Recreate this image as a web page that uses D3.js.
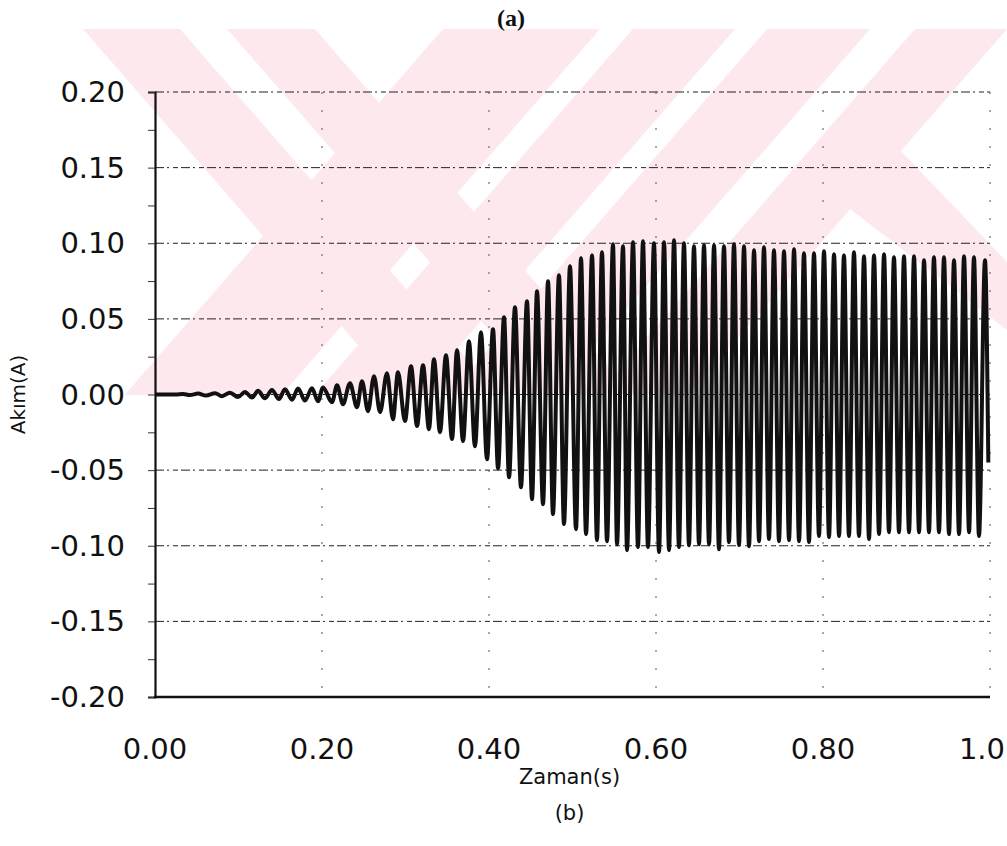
<!DOCTYPE html>
<html>
<head>
<meta charset="utf-8">
<script src="https://cdn.jsdelivr.net/npm/d3@7/dist/d3.min.js"></script>
<style>
  html, body { margin: 0; padding: 0; background: #fff; }
  svg { display: block; }
</style>
</head>
<body>
<div id="chart"></div>
<script>
// ---------------- data ----------------
const xTicks = [0, 0.2, 0.4, 0.6, 0.8, 1.0];
const xTickLabels = ["0.00", "0.20", "0.40", "0.60", "0.80", "1.0"];
const yTicks = [0.20, 0.15, 0.10, 0.05, 0.00, -0.05, -0.10, -0.15, -0.20];
const yTickLabels = ["0.20", "0.15", "0.10", "0.05", "0.00", "-0.05", "-0.10", "-0.15", "-0.20"];
const xTitle = "Zaman(s)";
const yTitle = "Akım(A)";
const topCaption = "(a)";
const bottomCaption = "(b)";

// start / end of the trace
const startPoint = [0.0, 0.0];
const flatUntil = [0.025, 0.0];
const endPoint = [0.998, -0.045];

// time (s) and current (A) of each positive peak
const peakTime = [
  0.0335, 0.0515, 0.0719, 0.0898, 0.1078, 0.1234, 0.1401, 0.1557, 0.1713, 0.1880, 0.2012,
  0.2180, 0.2335, 0.2479, 0.2623, 0.2778, 0.2910, 0.3066, 0.3210, 0.3341, 0.3485, 0.3617, 0.3760, 0.3904, 0.4048,
  0.4180, 0.4311, 0.4455, 0.4575, 0.4707, 0.4838, 0.4970, 0.5102, 0.5234, 0.5353, 0.5485, 0.5605, 0.5725, 0.5844,
  0.5976, 0.6096, 0.6216, 0.6335, 0.6455, 0.6575, 0.6695, 0.6814, 0.6934,
  0.7054, 0.7174, 0.7293, 0.7413, 0.7533, 0.7653, 0.7772, 0.7892, 0.8012, 0.8132, 0.8251, 0.8371, 0.8491,
  0.8611, 0.8731, 0.8850, 0.8970, 0.9090, 0.9210, 0.9329, 0.9449, 0.9569, 0.9689, 0.9808, 0.9940
];
const peakValue = [
  0.0004, 0.0006, 0.0009, 0.0012, 0.0017, 0.0024, 0.0030, 0.0035, 0.0040, 0.0042, 0.0046,
  0.0061, 0.0075, 0.0088, 0.0121, 0.0141, 0.0147, 0.0187, 0.0194, 0.0233, 0.0260, 0.0293, 0.0352, 0.0412, 0.0432,
  0.0511, 0.0577, 0.0617, 0.0683, 0.0749, 0.0789, 0.0848, 0.0901, 0.0921, 0.0941, 0.0994, 0.0980, 0.1007, 0.1013,
  0.1000, 0.1007, 0.1020, 0.1000, 0.0980, 0.0987, 0.0987, 0.0980, 0.0994,
  0.0980, 0.0954, 0.0974, 0.0954, 0.0947, 0.0960, 0.0934, 0.0934, 0.0947, 0.0927, 0.0921, 0.0941, 0.0914,
  0.0921, 0.0927, 0.0908, 0.0914, 0.0914, 0.0888, 0.0908, 0.0908, 0.0888, 0.0914, 0.0908, 0.0888
];
// time (s) and current (A) of each negative peak
const troughTime = [
  0.0419, 0.0611, 0.0802, 0.0994, 0.1162, 0.1317, 0.1485, 0.1641, 0.1796, 0.1952,
  0.2120, 0.2251, 0.2419, 0.2551, 0.2695, 0.2850, 0.2994, 0.3138, 0.3281, 0.3413, 0.3557, 0.3689, 0.3832, 0.3976,
  0.4108, 0.4240, 0.4383, 0.4515, 0.4647, 0.4766, 0.4898, 0.5042, 0.5162, 0.5293, 0.5413, 0.5533, 0.5653, 0.5784,
  0.5904, 0.6036, 0.6156, 0.6275, 0.6395, 0.6515, 0.6635, 0.6754, 0.6874,
  0.6994, 0.7114, 0.7234, 0.7353, 0.7473, 0.7593, 0.7713, 0.7832, 0.7952, 0.8072, 0.8192, 0.8311, 0.8431,
  0.8551, 0.8671, 0.8790, 0.8910, 0.9030, 0.9150, 0.9269, 0.9389, 0.9509, 0.9629, 0.9749, 0.9868
];
const troughValue = [
  -0.0004, -0.0007, -0.0011, -0.0017, -0.0020, -0.0025, -0.0030, -0.0035, -0.0040, -0.0045,
  -0.0051, -0.0064, -0.0084, -0.0110, -0.0117, -0.0163, -0.0176, -0.0209, -0.0229, -0.0249, -0.0295, -0.0308, -0.0342, -0.0428,
  -0.0487, -0.0547, -0.0613, -0.0692, -0.0725, -0.0791, -0.0857, -0.0890, -0.0923, -0.0963, -0.0970, -0.0990, -0.1029, -0.1009,
  -0.1009, -0.1042, -0.1029, -0.1009, -0.0996, -0.0990, -0.0990, -0.1023, -0.0976,
  -0.0995, -0.1003, -0.0970, -0.0956, -0.0970, -0.0963, -0.0970, -0.0976, -0.0936, -0.0943, -0.0936, -0.0936, -0.0936,
  -0.0956, -0.0923, -0.0910, -0.0910, -0.0910, -0.0910, -0.0910, -0.0910, -0.0923, -0.0923, -0.0910, -0.0936
];

// ---------------- layout ----------------
const W = 1007, H = 846;
const margin = { left: 155, right: 17, top: 92, bottom: 149 };

const svg = d3.select("#chart").append("svg")
  .attr("width", W).attr("height", H)
  .attr("viewBox", `0 0 ${W} ${H}`);

const x = d3.scaleLinear().domain([0, 1.0]).range([margin.left, W - margin.right]);
const y = d3.scaleLinear().domain([-0.2, 0.2]).range([H - margin.bottom, margin.top]);

// ---------------- watermark (decorative background logo) ----------------
const wmTop = 29, wmBottom = 395;
const wm = svg.append("g");
wm.append("clipPath").attr("id", "wmclip")
  .append("rect").attr("x", 0).attr("y", wmTop).attr("width", W).attr("height", wmBottom - wmTop);
const s = 0.87, d = wmBottom - wmTop;
const band = (x0, x1, dir) => [[x0, wmTop], [x1, wmTop], [x1 + dir * s * d, wmBottom], [x0 + dir * s * d, wmBottom]];
const wmShapes = [
  band(83, 180, 1), band(227, 315, 1),
  band(443, 600, -1), band(633, 735, -1), band(767, 870, -1),
  band(915, 1007, -1),
  [[845, 205], [900, 150], [1007, 262], [1007, 330]]
];
wm.append("g").attr("clip-path", "url(#wmclip)")
  .selectAll("path").data(wmShapes).join("path")
  .attr("d", p => "M" + p.map(q => q.join(",")).join("L") + "Z")
  .attr("fill", "#fde9ed");

// ---------------- grid ----------------
const grid = svg.append("g");
grid.selectAll("line.h").data(yTicks.filter(v => v > -0.2)).join("line")
  .attr("class", "h")
  .attr("x1", x(0)).attr("x2", x(1.0))
  .attr("y1", v => y(v)).attr("y2", v => y(v))
  .attr("stroke", "#222").attr("stroke-width", 1)
  .attr("stroke-dasharray", "9,3,2,4,5,3");
grid.selectAll("line.v").data(xTicks.filter(v => v > 0)).join("line")
  .attr("class", "v")
  .attr("x1", v => x(v)).attr("x2", v => x(v))
  .attr("y1", y(0.2)).attr("y2", y(-0.2))
  .attr("stroke", "#555").attr("stroke-width", 1)
  .attr("stroke-dasharray", "2,16");

// ---------------- axes ----------------
const yMinor = d3.range(-0.2, 0.2001, 0.025);
const yAxis = d3.axisLeft(y).tickValues(yMinor).tickSize(7).tickFormat("");
svg.append("g").attr("transform", `translate(${x(0)},0)`).call(yAxis)
  .call(g => g.select(".domain").attr("stroke", "#111").attr("stroke-width", 2.2))
  .call(g => g.selectAll(".tick line").attr("stroke", "#333").attr("stroke-width", 1));

svg.append("line")
  .attr("x1", x(0) - 1).attr("x2", x(1.0))
  .attr("y1", y(-0.2)).attr("y2", y(-0.2))
  .attr("stroke", "#111").attr("stroke-width", 2.6);

const fontTicks = "'DejaVu Sans', 'Liberation Sans', sans-serif";

svg.append("g").selectAll("text").data(yTicks).join("text")
  .attr("x", 125).attr("y", v => y(v) + 2)
  .attr("text-anchor", "end").attr("dominant-baseline", "middle")
  .attr("font-family", fontTicks).attr("font-size", 29).attr("fill", "#111")
  .text((v, i) => yTickLabels[i]);

// x tick labels: centred on the tick; the last one is kept inside the page edge
svg.append("g").selectAll("text").data(xTicks).join("text")
  .attr("x", (v, i) => i === xTicks.length - 1 ? W - 2 : x(v))
  .attr("y", 759)
  .attr("text-anchor", (v, i) => i === xTicks.length - 1 ? "end" : "middle")
  .attr("font-family", fontTicks).attr("font-size", 29).attr("fill", "#111")
  .text((v, i) => xTickLabels[i]);

svg.append("text")
  .attr("x", (x(0) + x(1.0)) / 2 - 3).attr("y", 784)
  .attr("text-anchor", "middle")
  .attr("font-family", fontTicks).attr("font-size", 21).attr("fill", "#111")
  .text(xTitle);

svg.append("text")
  .attr("x", (x(0) + x(1.0)) / 2 - 3).attr("y", 820)
  .attr("text-anchor", "middle")
  .attr("font-family", fontTicks).attr("font-size", 21).attr("fill", "#111")
  .text(bottomCaption);

svg.append("text")
  .attr("transform", `translate(25,${y(0)}) rotate(-90)`)
  .attr("text-anchor", "middle")
  .attr("font-family", fontTicks).attr("font-size", 20).attr("fill", "#111")
  .text(yTitle);

svg.append("text")
  .attr("x", 511).attr("y", 26)
  .attr("text-anchor", "middle")
  .attr("font-family", "'Liberation Serif', 'DejaVu Serif', serif")
  .attr("font-weight", "bold").attr("font-size", 24).attr("fill", "#111")
  .text(topCaption);

// ---------------- trace ----------------
const pts = [startPoint, flatUntil];
peakTime.forEach((t, i) => pts.push([t, peakValue[i]]));
troughTime.forEach((t, i) => pts.push([t, troughValue[i]]));
pts.push(endPoint);
pts.sort((a, b) => a[0] - b[0]);

const line = d3.line().x(p => x(p[0])).y(p => y(p[1])).curve(d3.curveMonotoneX);
svg.append("path").datum(pts)
  .attr("d", line)
  .attr("fill", "none").attr("stroke", "#111").attr("stroke-width", 4)
  .attr("stroke-linejoin", "round");
</script>
</body>
</html>
